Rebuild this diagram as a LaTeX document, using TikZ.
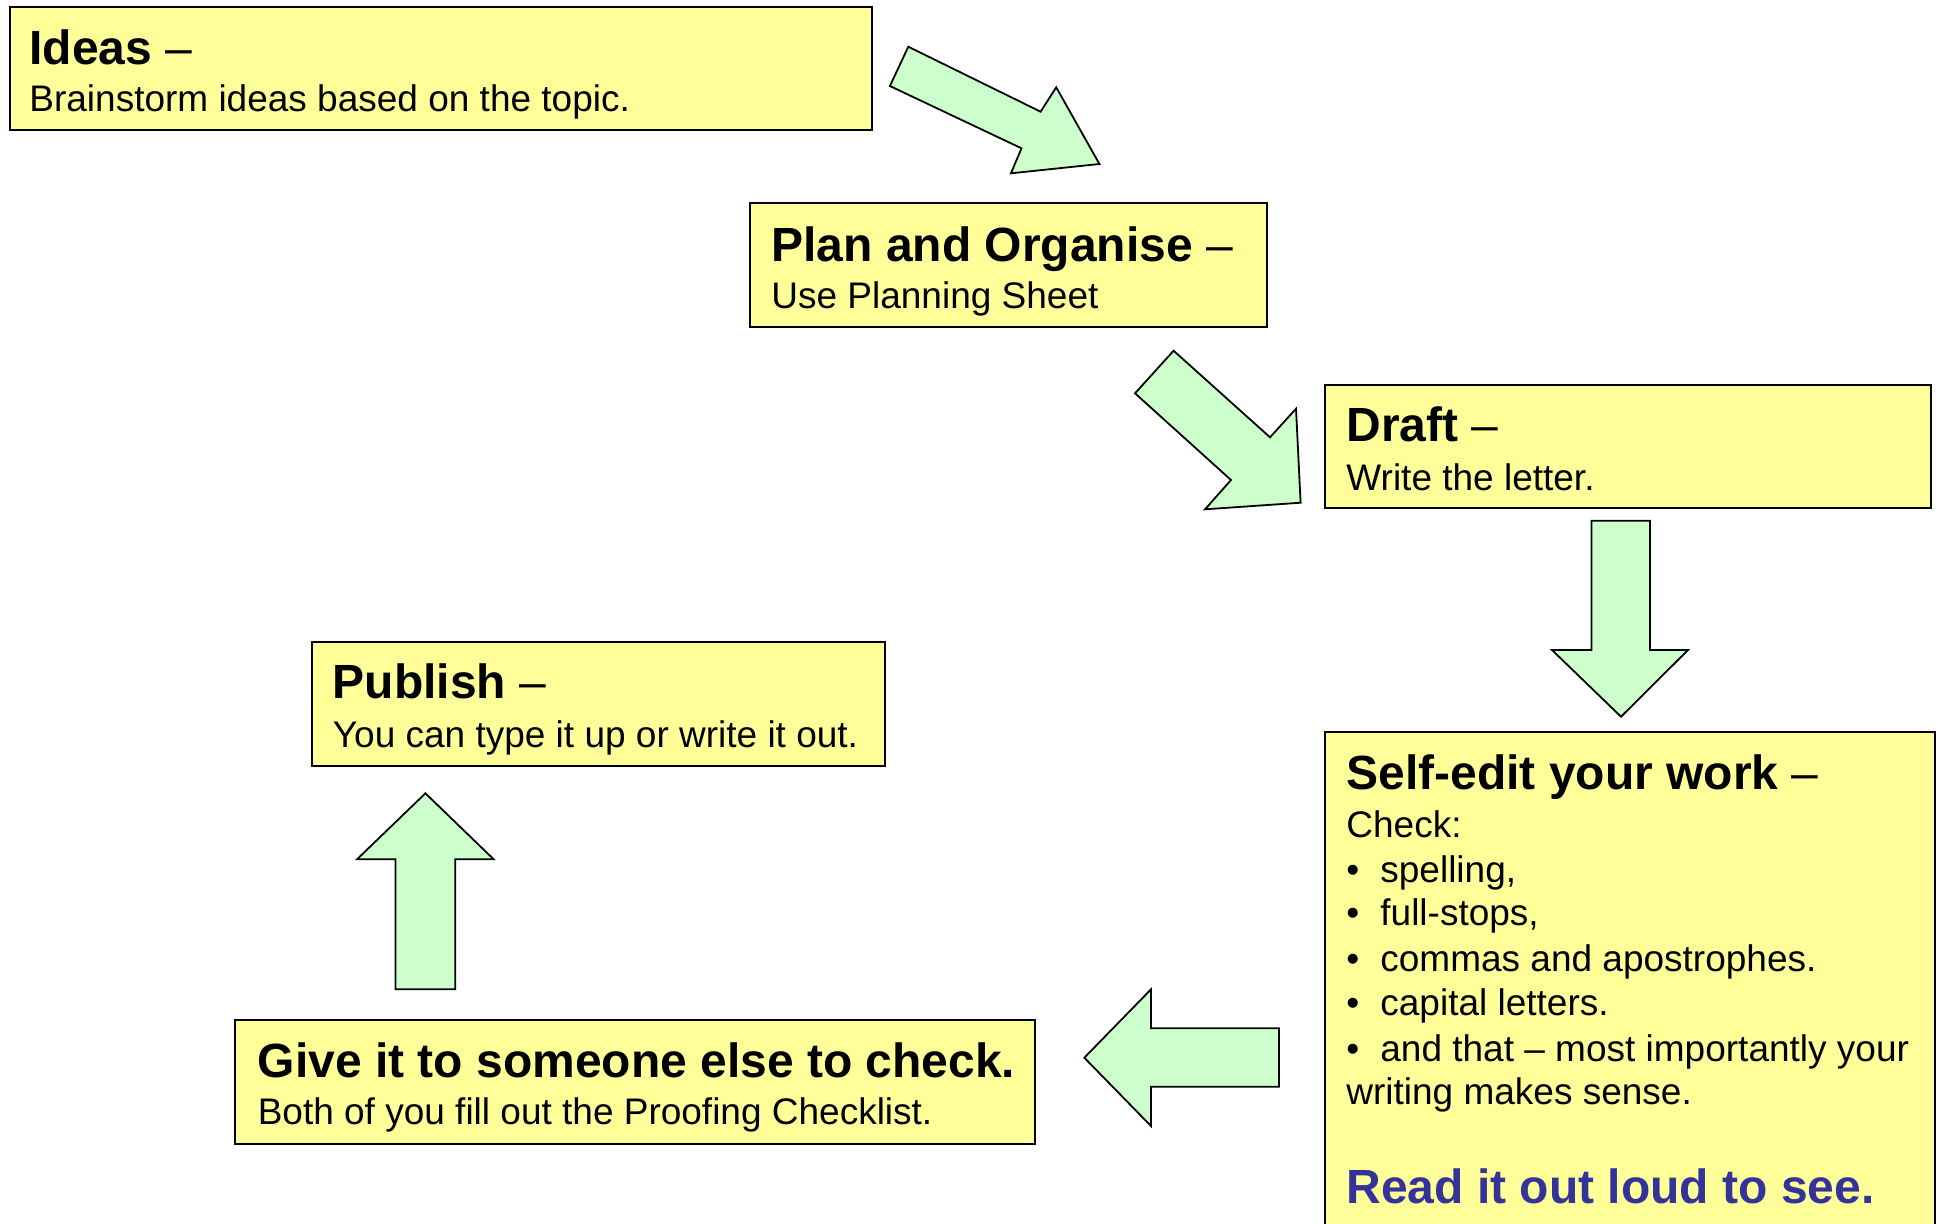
\documentclass[tikz,border=0pt]{standalone}
\usepackage{fontspec}
\setmainfont{Liberation Sans}
\definecolor{boxyellow}{HTML}{FFFF99}
\definecolor{arrowgreen}{HTML}{CCFFCC}
\definecolor{readblue}{HTML}{333399}
\begin{document}
\begin{tikzpicture}[x=0.5pt,y=-0.5pt,
  stepbox/.style={draw=black, line width=1pt, fill=boxyellow, anchor=north west, outer sep=0pt, inner sep=0pt},
  blockarrow/.style={draw=black, line width=0.9pt, fill=arrowgreen, line join=miter},
  head/.style={anchor=base west, inner sep=0pt, font=\fontsize{24}{28}\selectfont\bfseries},
  body/.style={anchor=base west, inner sep=0pt, font=\fontsize{18.5}{22}\selectfont},
  readline/.style={anchor=base west, inner sep=0pt, text=readblue, font=\fontsize{24}{28}\selectfont\bfseries},
]
\useasboundingbox (0,0) rectangle (1941,1223);

% boxes
\node[stepbox, minimum width=431pt, minimum height=61.5pt] (ideas) at (10,7) {};
\node[stepbox, minimum width=258.5pt, minimum height=62pt] (plan) at (750,203) {};
\node[stepbox, minimum width=303pt, minimum height=61.5pt] (draft) at (1325,385) {};
\node[stepbox, minimum width=305pt, minimum height=255pt] (self) at (1325,732) {};
\node[stepbox, minimum width=286.75pt, minimum height=62pt] (publish) at (311.5,642) {};
\node[stepbox, minimum width=399.8pt, minimum height=62pt] (give) at (235.4,1020) {};

% texts
\node[head] (ideash) at ([shift={(19,57)}]ideas.north west) {Ideas \textmd{–}};
\node[body] (ideasb) at ([shift={(19,104.5)}]ideas.north west) {Brainstorm ideas based on the topic.};

\node[head] (planh) at ([shift={(21,58)}]plan.north west) {Plan and Organise \textmd{–}};
\node[body] (planb) at ([shift={(21,105)}]plan.north west) {Use Planning Sheet};

\node[head] (drafth) at ([shift={(21,56)}]draft.north west) {Draft \textmd{–}};
\node[body] (draftb) at ([shift={(21,105)}]draft.north west) {Write the letter.};

\node[head] (selfh) at ([shift={(21,57)}]self.north west) {Self-edit your work \textmd{–}};
\node[body] (selfc) at ([shift={(21,105)}]self.north west) {Check:};
\node[body] (b1) at ([shift={(21,150)}]self.north west) {•};
\node[body] (t1) at ([shift={(55,150)}]self.north west) {spelling,};
\node[body] (b2) at ([shift={(21,193.5)}]self.north west) {•};
\node[body] (t2) at ([shift={(55,193.5)}]self.north west) {full-stops,};
\node[body] (b3) at ([shift={(21,239)}]self.north west) {•};
\node[body] (t3) at ([shift={(55,239)}]self.north west) {commas and apostrophes.};
\node[body] (b4) at ([shift={(21,283.5)}]self.north west) {•};
\node[body] (t4) at ([shift={(55,283.5)}]self.north west) {capital letters.};
\node[body] (b5) at ([shift={(21,329)}]self.north west) {•};
\node[body] (t5) at ([shift={(55,329)}]self.north west) {and that – most importantly your};
\node[body] (t6) at ([shift={(21,372.5)}]self.north west) {writing makes sense.};
\node[readline] (read) at ([shift={(21,471.5)}]self.north west) {Read it out loud to see.};

\node[head] (publishh) at ([shift={(21,56.5)}]publish.north west) {Publish \textmd{–}};
\node[body] (publishb) at ([shift={(21,105)}]publish.north west) {You can type it up or write it out.};

\node[head] (giveh) at ([shift={(22,57)}]give.north west) {Give it to someone else to check.};
\node[body] (giveb) at ([shift={(22,104.5)}]give.north west) {Both of you fill out the Proofing Checklist.};

% block arrows
\draw[blockarrow] (908.3,46.7) -- (1040.6,111.7) -- (1056.2,87.3) -- (1099.4,164)
  -- (1010.9,173.3) -- (1021.5,148.3) -- (889.9,86) -- cycle;
\draw[blockarrow] (1173.6,350.7) -- (1270,437.3) -- (1296,408.7) -- (1300.6,502.7)
  -- (1205,509.3) -- (1231,480) -- (1135,393.3) -- cycle;
\draw[blockarrow] (1591.5,520.7) -- (1650,520.7) -- (1650,650) -- (1688,650)
  -- (1621,716.7) -- (1552,650) -- (1591.5,650) -- cycle;
\draw[blockarrow] (1279,1028.3) -- (1151,1028.3) -- (1151,989.3) -- (1084.3,1057.7)
  -- (1151,1126) -- (1151,1086.7) -- (1279,1086.7) -- cycle;
\draw[blockarrow] (395.4,989.3) -- (395.4,859.3) -- (357,859.3) -- (425.4,793.3)
  -- (493.7,859.3) -- (455.3,859.3) -- (455.3,989.3) -- cycle;
\end{tikzpicture}
\end{document}
